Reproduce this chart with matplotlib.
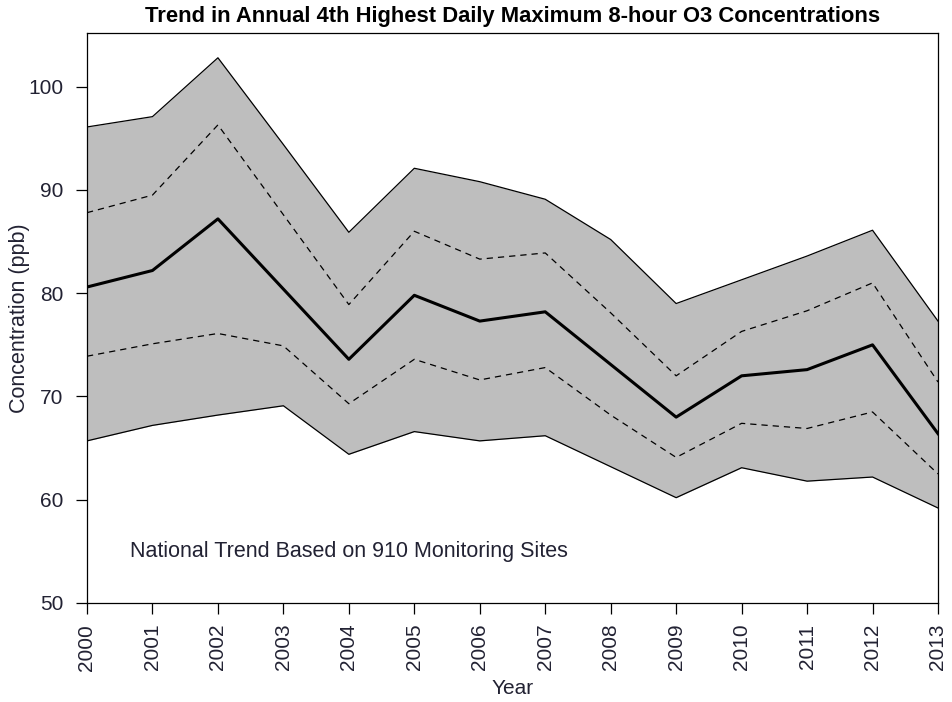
import numpy as np
import matplotlib
matplotlib.use("Agg")
import matplotlib.pyplot as plt

plt.rcParams['font.family'] = ['Liberation Sans', 'DejaVu Sans']

years = list(range(2000, 2014))
# percentiles of annual 4th-highest daily max 8-hr O3 (ppb)
p_max = [96.1, 97.1, 102.8, 94.4, 85.9, 92.1, 90.8, 89.1, 85.2, 79.0, 81.3, 83.6, 86.1, 77.3]
p_q90 = [87.8, 89.5, 96.3, 87.6, 78.9, 86.0, 83.3, 83.9, 78.1, 72.0, 76.3, 78.3, 81.0, 71.4]
p_mean = [80.6, 82.2, 87.2, 80.4, 73.6, 79.8, 77.3, 78.2, 73.1, 68.0, 72.0, 72.6, 75.0, 66.4]
p_q10 = [73.9, 75.1, 76.1, 74.9, 69.3, 73.6, 71.6, 72.8, 68.2, 64.1, 67.4, 66.9, 68.5, 62.5]
p_min = [65.7, 67.2, 68.2, 69.1, 64.4, 66.6, 65.7, 66.2, 63.2, 60.2, 63.1, 61.8, 62.2, 59.2]

txt = '#222233'

fig = plt.figure(figsize=(9.53, 7.02), dpi=100)
ax = fig.add_axes([87/953, 99/702, (938-87)/953, (603-33)/702])

ax.fill_between(years, p_min, p_max, color='#bebebe', lw=0)
ax.plot(years, p_max, color='black', lw=0.9)
ax.plot(years, p_min, color='black', lw=0.9)
ax.plot(years, p_q90, color='black', lw=0.9, ls=(0, (5, 4)))
ax.plot(years, p_q10, color='black', lw=0.9, ls=(0, (5, 4)))
ax.plot(years, p_mean, color='black', lw=2.2)

ax.set_xlim(2000, 2013)
ax.set_ylim(50, 105.2)
ax.set_xticks(years)
ax.set_xticklabels([str(y) for y in years], rotation=90, fontsize=15, color=txt)
ax.set_yticks([50, 60, 70, 80, 90, 100])
ax.set_yticklabels(['50', '60', '70', '80', '90', '100'], fontsize=15, color=txt)
ax.tick_params(direction='out', length=8, width=0.9)
ax.tick_params(axis='x', pad=7)
ax.tick_params(axis='y', pad=9)
for s in ax.spines.values():
    s.set_linewidth(0.9)

ax.set_xlabel('Year', fontsize=15, color=txt, labelpad=6)
ax.set_ylabel('Concentration (ppb)', fontsize=15.5, color=txt, labelpad=-1)
ax.set_title('Trend in Annual 4th Highest Daily Maximum 8-hour O3 Concentrations',
             fontsize=15.8, fontweight='bold', color='black', pad=8)
ax.text(2004, 55, 'National Trend Based on 910 Monitoring Sites',
        ha='center', va='center', fontsize=15.5, color=txt)

fig.savefig('out.png', dpi=100)
